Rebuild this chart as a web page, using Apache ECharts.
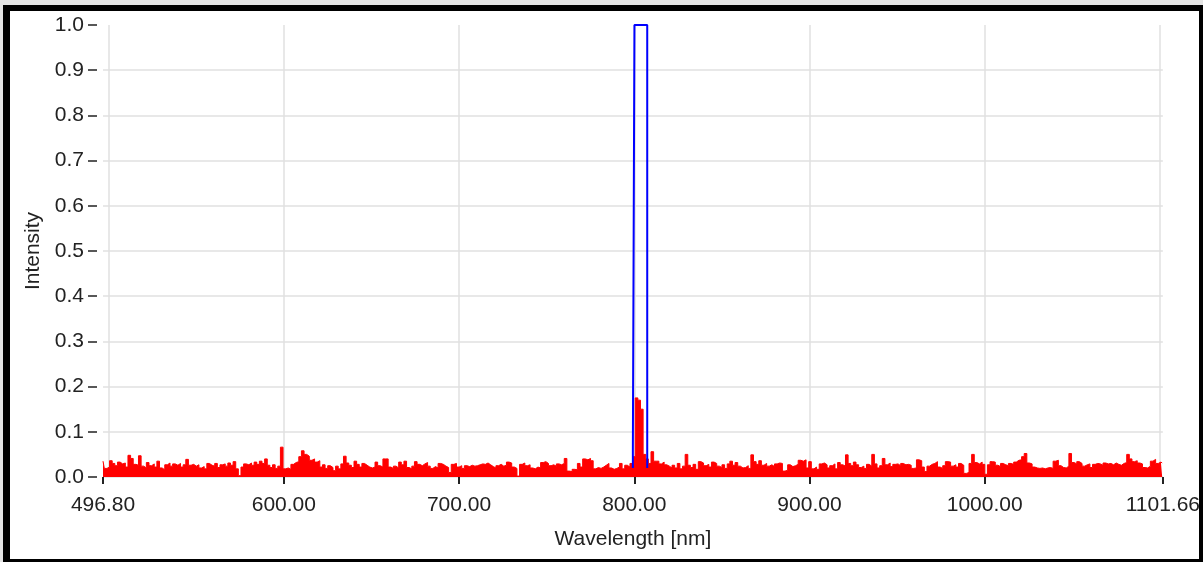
<!DOCTYPE html>
<html><head><meta charset="utf-8">
<script src="https://cdn.jsdelivr.net/npm/echarts@6/dist/echarts.min.js"></script>
<style>
html,body{margin:0;padding:0;background:#e4e4e4;width:1203px;height:562px;overflow:hidden;}
#chart{position:absolute;left:3px;top:5px;width:1200px;height:557px;background:#fff;}
#frame{position:absolute;left:3px;top:5px;width:1200px;height:557px;box-sizing:border-box;border-style:solid;border-color:#000;border-width:6px 4px 3px 7px;pointer-events:none;}
</style></head><body>
<div id="chart"></div><div id="frame"></div>
<script>
// Spectrum sampling (uniform wavelength grid)
const wavelengthStart = 496.8;
const wavelengthStep = 1.5;
// Measured spectrum intensity (red), one value per sample
const intensity = [
0.035,0.019,0.022,0.036,0.030,0.025,0.033,0.029,0.031,0.022,0.048,0.041,0.028,0.026,0.047,0.024,0.020,0.032,0.025,0.029,
0.022,0.035,0.020,0.016,0.027,0.031,0.024,0.029,0.026,0.030,0.022,0.027,0.039,0.026,0.028,0.024,0.027,0.020,0.023,0.018,
0.030,0.026,0.024,0.030,0.021,0.027,0.029,0.024,0.031,0.026,0.034,0.018,0.003,0.022,0.029,0.027,0.031,0.026,0.033,0.028,
0.035,0.030,0.040,0.026,0.021,0.027,0.019,0.024,0.066,0.018,0.020,0.017,0.028,0.032,0.034,0.045,0.058,0.050,0.046,0.037,
0.040,0.033,0.036,0.022,0.027,0.019,0.025,0.021,0.014,0.024,0.018,0.029,0.046,0.031,0.026,0.021,0.035,0.028,0.022,0.030,
0.026,0.022,0.020,0.022,0.033,0.025,0.022,0.040,0.040,0.022,0.019,0.024,0.020,0.033,0.027,0.035,0.021,0.018,0.024,0.034,
0.028,0.025,0.029,0.032,0.024,0.019,0.023,0.020,0.030,0.028,0.024,0.021,0.010,0.028,0.030,0.022,0.025,0.019,0.025,0.023,
0.026,0.024,0.025,0.027,0.029,0.028,0.031,0.027,0.023,0.020,0.025,0.028,0.024,0.026,0.033,0.031,0.022,0.019,0.002,0.028,
0.031,0.025,0.027,0.020,0.018,0.022,0.020,0.032,0.034,0.030,0.025,0.027,0.024,0.029,0.027,0.030,0.041,0.013,0.012,0.017,
0.016,0.030,0.022,0.040,0.038,0.041,0.036,0.018,0.021,0.019,0.022,0.026,0.030,0.020,0.017,0.019,0.022,0.030,0.018,0.026,
0.022,0.030,0.045,0.175,0.170,0.150,0.050,0.040,0.030,0.056,0.035,0.035,0.029,0.033,0.027,0.024,0.020,0.026,0.020,0.030,
0.018,0.024,0.050,0.026,0.021,0.028,0.017,0.034,0.031,0.025,0.028,0.022,0.033,0.030,0.024,0.021,0.027,0.019,0.029,0.035,
0.026,0.032,0.024,0.020,0.021,0.025,0.019,0.049,0.034,0.028,0.036,0.026,0.030,0.024,0.027,0.023,0.029,0.031,0.030,0.013,
0.015,0.027,0.023,0.025,0.028,0.037,0.035,0.038,0.020,0.034,0.018,0.022,0.017,0.029,0.031,0.027,0.020,0.025,0.029,0.018,
0.032,0.027,0.024,0.049,0.030,0.025,0.033,0.027,0.021,0.024,0.019,0.028,0.024,0.050,0.029,0.020,0.025,0.041,0.027,0.031,
0.023,0.028,0.029,0.025,0.030,0.027,0.028,0.026,0.019,0.020,0.038,0.036,0.022,0.012,0.024,0.028,0.030,0.034,0.022,0.019,
0.025,0.034,0.033,0.024,0.027,0.022,0.030,0.026,0.008,0.010,0.030,0.050,0.032,0.029,0.033,0.028,0.006,0.027,0.034,0.033,
0.026,0.023,0.030,0.027,0.025,0.030,0.028,0.033,0.037,0.038,0.045,0.052,0.031,0.029,0.022,0.020,0.019,0.020,0.018,0.020,
0.021,0.019,0.035,0.037,0.025,0.021,0.020,0.024,0.052,0.032,0.029,0.034,0.030,0.024,0.027,0.029,0.021,0.028,0.030,0.029,
0.026,0.031,0.029,0.030,0.027,0.031,0.028,0.026,0.030,0.032,0.050,0.040,0.034,0.036,0.031,0.029,0.021,0.020,0.024,0.035,
0.039,0.030,0.033,0.031
];
// Filter band (blue outline)
const filterWavelength = [799.2, 799.2, 800.1, 800.1, 807.4, 807.4];
const filterIntensity  = [0.02,  0.06,  0.06,  1.0,   1.0,   0.02];
// Axes
const xMin = 496.8, xMax = 1101.66;
const xLabelValues = [496.8, 600, 700, 800, 900, 1000, 1101.66];
const xGridValues = [500, 600, 700, 800, 900, 1000, 1100];
const yMin = 0, yMax = 1, yInterval = 0.1;

const spectrum = intensity.map((v, i) => [wavelengthStart + i * wavelengthStep, v]);
const filter = filterWavelength.map((w, i) => [w, filterIntensity[i]]);

const FONT = "'Liberation Sans', Arial, sans-serif";
const TXT = '#222';
const chart = echarts.init(document.getElementById('chart'), null, {renderer: 'canvas'});
chart.setOption({
  animation: false,
  backgroundColor: '#fff',
  grid: {left: 100, right: 39, top: 20, bottom: 85, containLabel: false},
  xAxis: [{
    type: 'value', min: xMin, max: xMax, offset: 3,
    name: 'Wavelength [nm]', nameLocation: 'middle', nameGap: 49,
    nameTextStyle: {color: TXT, fontFamily: FONT, fontSize: 21},
    axisLine: {show: false},
    axisTick: {show: true, length: 7, customValues: xLabelValues, lineStyle: {color: '#222', width: 2}},
    axisLabel: {customValues: xLabelValues, margin: 15, color: TXT, fontFamily: FONT, fontSize: 21,
      formatter: v => Number(v).toFixed(2)},
    splitLine: {show: false}
  }, {
    type: 'value', min: xMin, max: xMax, position: 'bottom',
    axisLine: {show: false},
    axisTick: {show: false, customValues: xGridValues},
    axisLabel: {show: false, customValues: xGridValues},
    splitLine: {show: true, lineStyle: {color: '#e0e0e0', width: 1.5}}
  }],
  yAxis: {
    type: 'value', min: yMin, max: yMax, interval: yInterval, offset: 6,
    name: 'Intensity', nameLocation: 'middle', nameGap: 50, nameRotate: 90,
    nameTextStyle: {color: TXT, fontFamily: FONT, fontSize: 21},
    axisLine: {show: false},
    axisTick: {show: true, length: 9, lineStyle: {color: '#222', width: 1.5}},
    axisLabel: {margin: 13, color: TXT, fontFamily: FONT, fontSize: 21, formatter: v => Number(v).toFixed(1)},
    splitLine: {show: true, showMaxLine: false, lineStyle: {color: '#e0e0e0', width: 1.5}}
  },
  series: [{
    type: 'line', name: 'Spectrum', data: spectrum, xAxisIndex: 0,
    step: 'middle', showSymbol: false, symbol: 'none', z: 2,
    lineStyle: {color: '#ff0000', width: 1},
    areaStyle: {color: '#ff0000', opacity: 1}
  }, {
    type: 'line', name: 'Filter', data: filter, xAxisIndex: 0,
    showSymbol: false, symbol: 'none', z: 3,
    lineStyle: {color: '#0000ff', width: 2}
  }]
});
</script>
</body></html>
